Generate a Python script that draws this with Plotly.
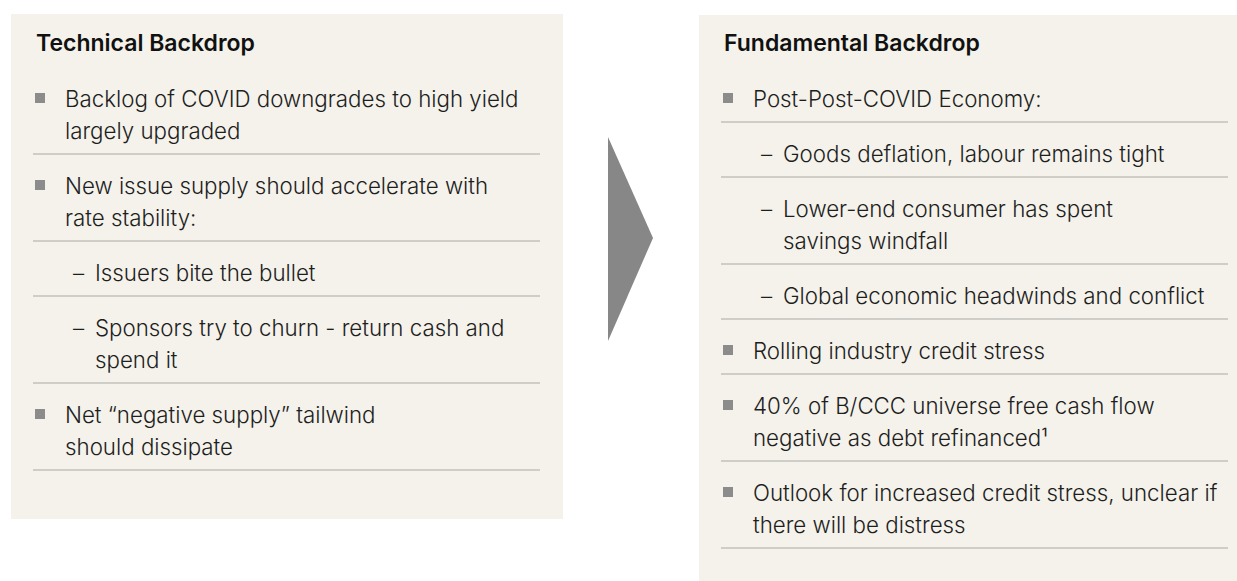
import plotly.graph_objects as go

# ---- content ----
panel_titles = ["Technical Backdrop", "Fundamental Backdrop"]

# each item: level 1 = square bullet, level 2 = dash sub-bullet
technical_levels = [1, 1, 2, 2, 1]
technical_lines = [
    ["Backlog of COVID downgrades to high yield", "largely upgraded"],
    ["New issue supply should accelerate with", "rate stability:"],
    ["Issuers bite the bullet"],
    ["Sponsors try to churn - return cash and", "spend it"],
    ["Net \u201cnegative supply\u201d tailwind", "should dissipate"],
]

fundamental_levels = [1, 2, 2, 2, 1, 1, 1]
fundamental_lines = [
    ["Post-Post-COVID Economy:"],
    ["Goods deflation, labour remains tight"],
    ["Lower-end consumer has spent", "savings windfall"],
    ["Global economic headwinds and conflict"],
    ["Rolling industry credit stress"],
    ["40% of B/CCC universe free cash flow", "negative as debt refinanced\u00b9"],
    ["Outlook for increased credit stress, unclear if", "there will be distress"],
]

# ---- layout constants (pixels) ----
W, H = 1237, 581
BG = "#F4F2EA"
TEXT = "#1E1E1E"
SEP = "#C2C0BB"
BULLET = "#8C8C8C"
ARROW = "#878787"
FONT = "Inter"
FS = 22.3
FS_TITLE = 23

panels = [
    dict(x0=11, y0=14, x1=563, y1=519, levels=technical_levels, lines=technical_lines),
    dict(x0=699, y0=15, x1=1251, y1=600, levels=fundamental_levels, lines=fundamental_lines),
]

shapes = []
annotations = []

for p, title in zip(panels, panel_titles):
    x0 = p["x0"]
    shapes.append(dict(type="rect", xref="x", yref="y", x0=p["x0"], x1=p["x1"], y0=p["y0"], y1=p["y1"],
                       fillcolor=BG, line=dict(width=0), layer="below"))
    annotations.append(dict(xref="x", yref="y", x=x0 + 23, y=43, text=title, showarrow=False,
                            xanchor="left", yanchor="middle",
                            font=dict(family=FONT, size=FS_TITLE, color="#111111", weight=600)))
    s = 67.0
    for lvl, lines in zip(p["levels"], p["lines"]):
        n = len(lines)
        for i, ln in enumerate(lines):
            yc = s + 31 + 32 * i
            tx = x0 + 52 if lvl == 1 else x0 + 82
            annotations.append(dict(xref="x", yref="y", x=tx, y=yc, text=ln, showarrow=False,
                                    xanchor="left", yanchor="middle",
                                    font=dict(family=FONT, size=FS, color=TEXT, weight=300)))
        yc0 = s + 31
        if lvl == 1:
            shapes.append(dict(type="rect", xref="x", yref="y", x0=x0 + 24, x1=x0 + 34,
                               y0=yc0 - 5, y1=yc0 + 5, fillcolor=BULLET, line=dict(width=0)))
        else:
            annotations.append(dict(xref="x", yref="y", x=x0 + 60, y=yc0, text="\u2013", showarrow=False,
                                    xanchor="left", yanchor="middle",
                                    font=dict(family=FONT, size=FS, color=TEXT, weight=300)))
        s += 23 + 32 * n
        shapes.append(dict(type="line", xref="x", yref="y", x0=x0 + 22, x1=x0 + 529, y0=s, y1=s,
                           line=dict(color=SEP, width=1.3)))

# arrow between panels
shapes.append(dict(type="path", xref="x", yref="y", path="M 608 137 L 653 238 L 608 341 Z",
                   fillcolor=ARROW, line=dict(width=0)))

fig = go.Figure()
fig.update_layout(
    width=W, height=H, margin=dict(l=0, r=0, t=0, b=0),
    paper_bgcolor="white", plot_bgcolor="white",
    xaxis=dict(range=[0, W], visible=False, fixedrange=True),
    yaxis=dict(range=[H, 0], visible=False, fixedrange=True),
    shapes=shapes, annotations=annotations, showlegend=False,
)
fig.write_html(
    "out.html",
    config={"displayModeBar": False},
    post_script="document.body.style.margin='0';document.documentElement.style.overflow='hidden';",
)
